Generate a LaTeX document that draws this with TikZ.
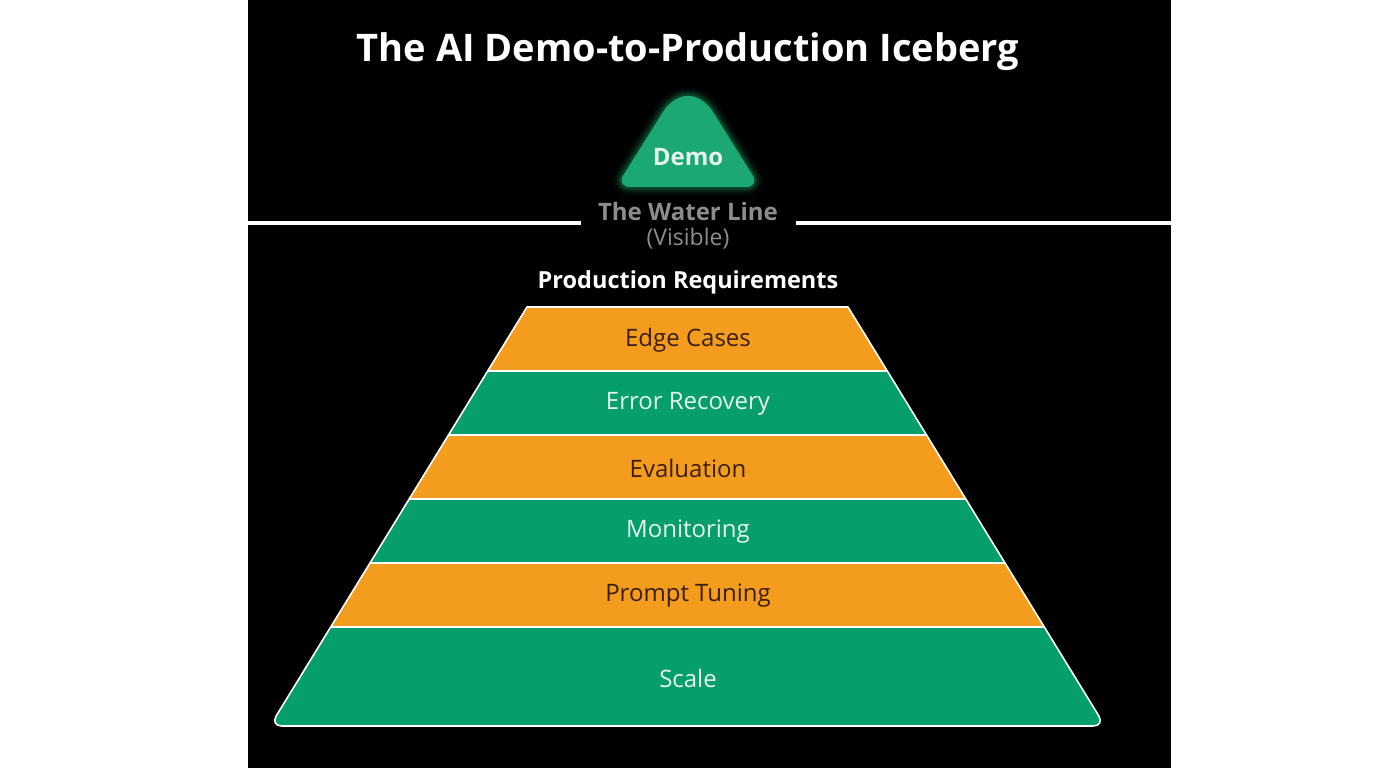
\documentclass[tikz,border=0pt]{standalone}
\usepackage{fontspec}
\setmainfont{Open Sans}
\usetikzlibrary{positioning}

\definecolor{bandorange}{HTML}{F39C1D}
\definecolor{bandgreen}{HTML}{069E6B}
\definecolor{demogreen}{HTML}{1CA873}
\definecolor{glowgreen}{HTML}{22C47F}
\definecolor{labeldark}{HTML}{3B1F0E}
\definecolor{labellight}{HTML}{E6F4EC}
\definecolor{watergray}{HTML}{8C8C8C}

\begin{document}
\begin{tikzpicture}[x=1pt,y=-1pt,
		% Style definitions
		band/.style={draw=white, line width=1.6pt, line join=round},
		orangeband/.style={band, fill=bandorange},
		greenband/.style={band, fill=bandgreen},
		darklabel/.style={text=labeldark, font=\fontsize{24}{28}\selectfont},
		lightlabel/.style={text=labellight, font=\fontsize{24}{28}\selectfont},
		heading/.style={text=white, font=\bfseries\fontsize{23.5}{28}\selectfont},
		waterline/.style={white, line width=4pt}
		]
		% Page and dark panel
		\useasboundingbox (0,0) rectangle (1376,768);
		\fill[white] (0,0) rectangle (1376,768);
		\fill[black] (248,0) rectangle (1171,768);
		
		% Title
		\node[text=white, font=\bfseries\fontsize{38}{44}\selectfont] (title) at (688,52) {The AI Demo-to-Production Iceberg};
		
		% Demo tip with glow
		\foreach \w/\o in {18/0.04,13/0.07,9/0.1,5/0.18}
		\draw[glowgreen, opacity=\o, line width=\w pt, line join=round]
		(630,187) -- (746,187) .. controls (753.7,187) and (756.7,181.6) .. (752.6,175.1) -- (713.5,112.7)
		.. controls (699.5,90.3) and (676.5,90.3) .. (662.5,112.7) -- (623.4,175.1)
		.. controls (619.3,181.6) and (622.3,187) .. (630,187) -- cycle;
		\fill[demogreen] (630,187) -- (746,187) .. controls (753.7,187) and (756.7,181.6) .. (752.6,175.1) -- (713.5,112.7)
		.. controls (699.5,90.3) and (676.5,90.3) .. (662.5,112.7) -- (623.4,175.1)
		.. controls (619.3,181.6) and (622.3,187) .. (630,187) -- cycle;
		\node[text=labellight, font=\bfseries\fontsize{24}{28}\selectfont] (demo) at (688,157) {Demo};
		
		% Water line
		\node[text=watergray, font=\bfseries\fontsize{24}{28}\selectfont] (water) at (688,211) {The Water Line};
		\node[text=watergray, font=\fontsize{23}{27}\selectfont] (visible) at (688,239) {(Visible)};
		\coordinate (wl-left) at (248,223);
		\coordinate (wl-gap-left) at (581,223);
		\coordinate (wl-gap-right) at (796,223);
		\coordinate (wl-right) at (1171,223);
		\draw[waterline] (wl-left) -- (wl-gap-left);
		\draw[waterline] (wl-gap-right) -- (wl-right);
		
		% Production requirements
		\node[heading] (prod) at (688,282) {Production Requirements};
		
		% Pyramid bands
		\draw[orangeband] (527,307) -- (848,307) -- (887.3,371) -- (487.7,371) -- cycle;
		\draw[greenband] (487.7,371) -- (887.3,371) -- (926.5,435) -- (448.5,435) -- cycle;
		\draw[orangeband] (448.5,435) -- (926.5,435) -- (965.8,499) -- (409.2,499) -- cycle;
		\draw[greenband] (409.2,499) -- (965.8,499) -- (1005,563) -- (370,563) -- cycle;
		\draw[orangeband] (370,563) -- (1005,563) -- (1044.3,627) -- (330.7,627) -- cycle;
		\draw[greenband] (330.7,627) [rounded corners=12pt] -- (270,726) -- (1105,726) [sharp corners] -- (1044.3,627) -- cycle;
		
		% Band labels
		\node[darklabel] (edge) at (688,340) {Edge Cases};
		\node[lightlabel] (error) at (688,404) {Error Recovery};
		\node[darklabel] (eval) at (688,468) {Evaluation};
		\node[lightlabel] (monitor) at (688,532) {Monitoring};
		\node[darklabel] (prompt) at (688,596) {Prompt Tuning};
		\node[lightlabel] (scale) at (688,678) {Scale};
		
	\end{tikzpicture}
\end{document}
